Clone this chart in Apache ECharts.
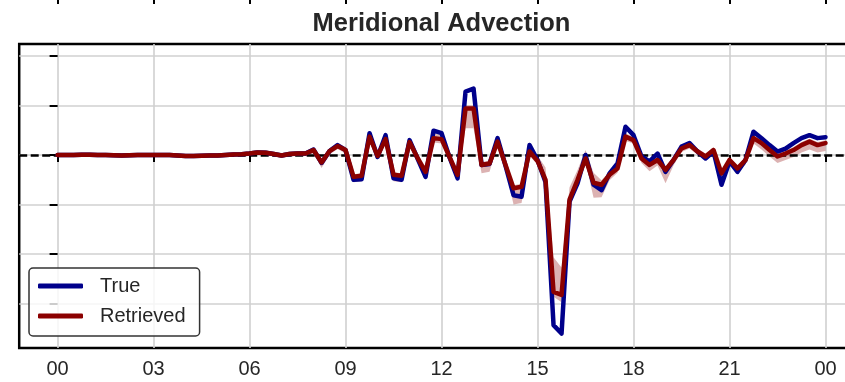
<!DOCTYPE html>
<html>
<head>
<meta charset="utf-8">
<script src="https://cdn.jsdelivr.net/npm/echarts@6/dist/echarts.min.js"></script>
<style>
  html, body { margin: 0; padding: 0; background: #ffffff; }
  #chart { width: 845px; height: 382px; }
</style>
</head>
<body>
<div id="chart"></div>
<script>
// 15-minute samples over one day (hours since 00:00)
const hours = Array.from({ length: 97 }, (_, i) => i * 0.25);

const tickHours = [0, 3, 6, 9, 12, 15, 18, 21, 24];
const tickLabels = ['00', '03', '06', '09', '12', '15', '18', '21', '00'];
const yTicks = [-3, -2, -1, 0, 1, 2];

// Meridional advection, true field
const trueValues = [
  0, 0, 0, 0.005, 0.005, 0, 0, -0.005, -0.01, -0.005, 0, 0,
  0, 0, 0, -0.01, -0.02, -0.02, -0.015, -0.01, -0.01, 0, 0.01, 0.015,
  0.03, 0.05, 0.045, 0.02, -0.01, 0.02, 0.03, 0.03, 0.11, -0.16, 0.08, 0.2,
  0.1, -0.5, -0.49, 0.44, -0.04, 0.4, -0.47, -0.5, 0.3, -0.07, -0.44, 0.49,
  0.44, -0.05, -0.47, 1.28, 1.34, -0.2, -0.18, 0.34, -0.22, -0.81, -0.84, 0.2,
  -0.1, -0.55, -3.43, -3.6, -0.94, -0.57, 0, -0.6, -0.71, -0.37, -0.17, 0.57,
  0.4, -0.03, -0.13, 0.03, -0.34, -0.1, 0.17, 0.24, 0.07, -0.07, 0.07, -0.6,
  -0.13, -0.34, -0.1, 0.47, 0.34, 0.2, 0.07, 0.13, 0.24, 0.34, 0.4, 0.34, 0.36
];

// Retrieved estimate (ensemble mean)
const retrievedValues = [
  0, 0, 0, 0.005, 0.005, 0, 0, -0.005, -0.01, -0.005, 0, 0,
  0, 0, 0, -0.01, -0.02, -0.02, -0.015, -0.01, -0.01, 0, 0.01, 0.015,
  0.03, 0.05, 0.045, 0.02, -0.01, 0.02, 0.03, 0.03, 0.1, -0.15, 0.08, 0.18,
  0.1, -0.44, -0.42, 0.37, -0.02, 0.32, -0.4, -0.42, 0.26, -0.06, -0.34, 0.34,
  0.32, -0.04, -0.4, 0.94, 0.94, -0.2, -0.17, 0.27, -0.2, -0.67, -0.64, 0.07,
  -0.12, -0.5, -2.76, -2.82, -0.9, -0.5, -0.07, -0.56, -0.6, -0.4, -0.27, 0.37,
  0.3, -0.07, -0.2, -0.1, -0.3, -0.1, 0.13, 0.2, 0.07, -0.03, 0.1, -0.37,
  -0.1, -0.27, -0.1, 0.34, 0.24, 0.1, -0.03, 0.03, 0.1, 0.2, 0.27, 0.2, 0.24
];

// Ensemble spread of the retrieval: distance of the band edges below / above the mean
const bandBelow = [
  0.04, 0.04, 0.04, 0.04, 0.04, 0.04, 0.04, 0.04, 0.04, 0.04, 0.04, 0.04,
  0.04, 0.04, 0.04, 0.04, 0.04, 0.04, 0.04, 0.04, 0.04, 0.04, 0.04, 0.04,
  0.05, 0.05, 0.05, 0.05, 0.05, 0.05, 0.05, 0.05, 0.07, 0.11, 0.07, 0.06,
  0.07, 0.11, 0.11, 0.07, 0.07, 0.07, 0.13, 0.13, 0.07, 0.07, 0.09, 0.09,
  0.09, 0.07, 0.09, 0.4, 0.4, 0.17, 0.17, 0.07, 0.09, 0.33, 0.33, 0.09,
  0.07, 0.09, 0.1, 0.15, 0.1, 0.09, 0.07, 0.3, 0.25, 0.11, 0.09, 0.09,
  0.07, 0.09, 0.13, 0.11, 0.27, 0.11, 0.07, 0.07, 0.07, 0.07, 0.07, 0.11,
  0.07, 0.09, 0.09, 0.11, 0.13, 0.13, 0.13, 0.13, 0.14, 0.15, 0.16, 0.15, 0.16
];
const bandAbove = [
  0.04, 0.04, 0.04, 0.04, 0.04, 0.04, 0.04, 0.04, 0.04, 0.04, 0.04, 0.04,
  0.04, 0.04, 0.04, 0.04, 0.04, 0.04, 0.04, 0.04, 0.04, 0.04, 0.04, 0.04,
  0.05, 0.05, 0.05, 0.05, 0.05, 0.05, 0.05, 0.05, 0.06, 0.06, 0.06, 0.06,
  0.06, 0.05, 0.05, 0.07, 0.06, 0.07, 0.05, 0.05, 0.06, 0.06, 0.06, 0.09,
  0.09, 0.06, 0.06, 0.06, 0.06, 0.06, 0.06, 0.06, 0.06, 0.06, 0.06, 0.07,
  0.11, 0.25, 0.7, 0.55, 0.25, 0.2, 0.17, 0.2, 0.09, 0.07, 0.07, 0.07,
  0.06, 0.06, 0.06, 0.06, 0.06, 0.06, 0.06, 0.06, 0.06, 0.06, 0.06, 0.06,
  0.06, 0.06, 0.06, 0.06, 0.06, 0.06, 0.06, 0.06, 0.06, 0.06, 0.06, 0.06, 0.06
];

const FONT = 'Liberation Sans';
const TEXT = '#262626';

const pairs = (vals) => hours.map((h, i) => [h, vals[i]]);

// Spread band drawn as one closed polygon: upper edge left→right, lower edge right→left
function renderBand(params, api) {
  const upper = hours.map((h, i) => api.coord([h, retrievedValues[i] + bandAbove[i]]));
  const lower = hours.map((h, i) => api.coord([h, retrievedValues[i] - bandBelow[i]])).reverse();
  return {
    type: 'polygon',
    silent: true,
    shape: { points: upper.concat(lower) },
    style: { fill: 'rgba(139,0,0,0.3)', stroke: 'none' }
  };
}

const chart = echarts.init(document.getElementById('chart'), null, { renderer: 'canvas' });

chart.setOption({
  animation: false,
  backgroundColor: '#ffffff',
  title: {
    text: 'Meridional Advection',
    left: 436.5,
    top: 6,
    textAlign: 'center',
    textStyle: { fontFamily: FONT, fontSize: 25.5, fontWeight: 'bold', color: TEXT }
  },
  legend: {
    data: ['True', 'Retrieved'],
    orient: 'vertical',
    left: 29,
    top: 268,
    padding: [8, 14, 10, 9],
    itemGap: 10,
    itemWidth: 45,
    itemHeight: 5,
    icon: 'roundRect',
    borderColor: '#333333',
    borderWidth: 1.5,
    borderRadius: 4,
    backgroundColor: 'rgba(255,255,255,0.8)',
    textStyle: { fontFamily: FONT, fontSize: 20, color: TEXT, padding: [0, 0, 0, 12] }
  },
  grid: [
    {
      left: 19.2, top: 44, width: 844.7, height: 304,
      outerBoundsMode: 'none',
      show: true, borderColor: '#000000', borderWidth: 2.5, backgroundColor: 'transparent'
    },
    // bottom edge of the panel stacked above (only its ticks reach this view)
    { left: 19.2, top: -60, width: 844.7, height: 58, outerBoundsMode: 'none', show: false }
  ],
  xAxis: [
    {
      type: 'value', gridIndex: 0, min: -1.2, max: 25.2,
      axisLine: { show: false },
      axisTick: { show: true, customValues: tickHours, length: 7, lineStyle: { color: '#000', width: 2 } },
      axisLabel: {
        show: true, customValues: tickHours, margin: 11,
        fontFamily: FONT, fontSize: 20, color: TEXT,
        formatter: (v) => tickLabels[tickHours.indexOf(v)]
      },
      splitLine: { show: true, lineStyle: { color: '#d0d0d0', width: 1.6 } }
    },
    {
      type: 'value', gridIndex: 1, min: -1.2, max: 25.2,
      axisLine: { show: false },
      axisTick: { show: true, customValues: tickHours, length: 6, lineStyle: { color: '#000', width: 2 } },
      axisLabel: { show: false },
      splitLine: { show: false }
    }
  ],
  yAxis: [
    {
      type: 'value', gridIndex: 0, min: -3.891, max: 2.238,
      axisLine: { show: false },
      axisTick: { show: true, customValues: yTicks, length: 8, lineStyle: { color: '#000', width: 2 } },
      axisLabel: { show: false, customValues: yTicks },
      splitLine: { show: true, lineStyle: { color: '#d0d0d0', width: 1.6 } }
    },
    {
      type: 'value', gridIndex: 1, min: 0, max: 1, show: false
    }
  ],
  series: [
    {
      name: 'band', type: 'custom', xAxisIndex: 0, yAxisIndex: 0,
      renderItem: renderBand, data: [[0, 0]], z: 1, silent: true, clip: true
    },
    {
      name: 'True', type: 'line', xAxisIndex: 0, yAxisIndex: 0,
      data: pairs(trueValues), symbol: 'none', z: 3,
      color: '#00008b',
      lineStyle: { color: '#00008b', width: 4.5, join: 'round', cap: 'round' },
      markLine: {
        silent: true, symbol: 'none', z: 2, animation: false,
        label: { show: false },
        lineStyle: { color: '#000000', type: [8, 3.5], width: 2.5 },
        data: [{ yAxis: 0 }]
      }
    },
    {
      name: 'Retrieved', type: 'line', xAxisIndex: 0, yAxisIndex: 0,
      data: pairs(retrievedValues), symbol: 'none', z: 4,
      color: '#8b0000',
      lineStyle: { color: '#8b0000', width: 4.5, join: 'round', cap: 'round' }
    }
  ]
});
</script>
</body>
</html>
